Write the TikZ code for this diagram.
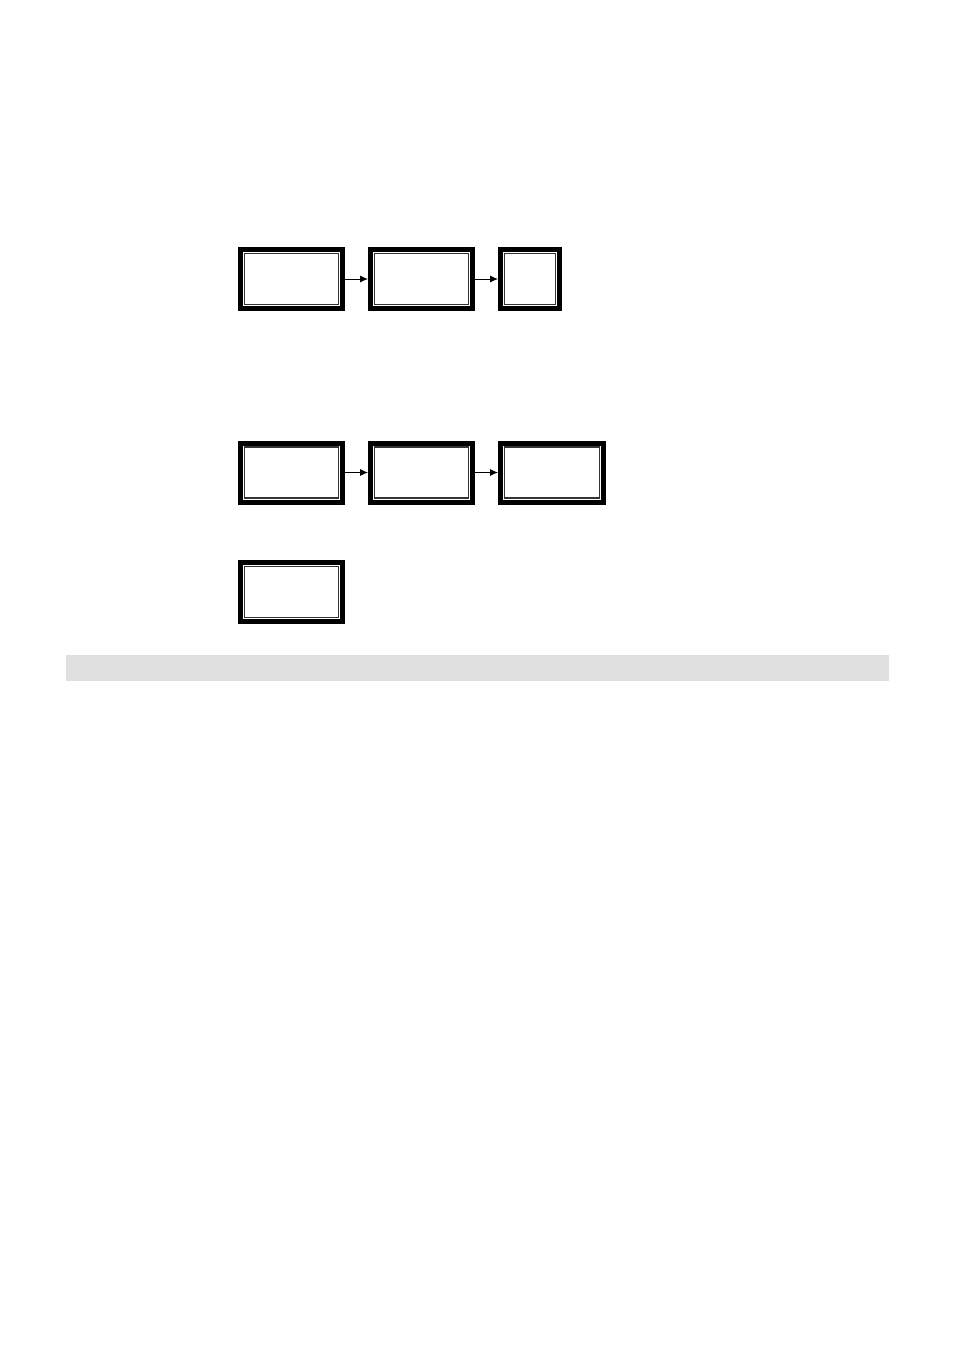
\documentclass[tikz,border=0pt]{standalone}
\usetikzlibrary{arrows.meta}
\definecolor{bargray}{HTML}{E0E0E0}
\begin{document}
\begin{tikzpicture}[x=1pt,y=-1pt,
  box/.style={draw=black,line width=5pt,fill=white,minimum height=59pt,inner sep=0pt},
  innerline/.style={draw=black!80,line width=1.1pt},
  conn/.style={-{Latex[length=8pt,width=7pt]},line width=0.9pt}]
\useasboundingbox (0,0) rectangle (954,1351);
\fill[white] (0,0) rectangle (954,1351);
% row 1
\node[box,minimum width=102pt] (a1) at (291.5,279) {};
\node[box,minimum width=102pt] (b1) at (421.5,279) {};
\node[box,minimum width=59pt] (c1) at (530,279) {};
% row 2
\node[box,minimum width=102pt] (a2) at (291.5,472.5) {};
\node[box,minimum width=102pt] (b2) at (421.5,472.5) {};
\node[box,minimum width=103pt] (c2) at (552,472.5) {};
% row 3
\node[box,minimum width=102pt] (a3) at (291.5,592) {};
\foreach \n in {a1,b1,c1,a2,b2,c2,a3}{
  \draw[innerline] ([shift={(6.5pt,-6.5pt)}]\n.north west) rectangle ([shift={(-6.5pt,6.5pt)}]\n.south east);
}
\draw[conn] (a1) -- (b1);
\draw[conn] (b1) -- (c1);
\draw[conn] (a2) -- (b2);
\draw[conn] (b2) -- (c2);
% gray bar
\node[fill=bargray,minimum width=823pt,minimum height=26pt,inner sep=0pt] (bar) at (477.5,668) {};
\end{tikzpicture}
\end{document}
